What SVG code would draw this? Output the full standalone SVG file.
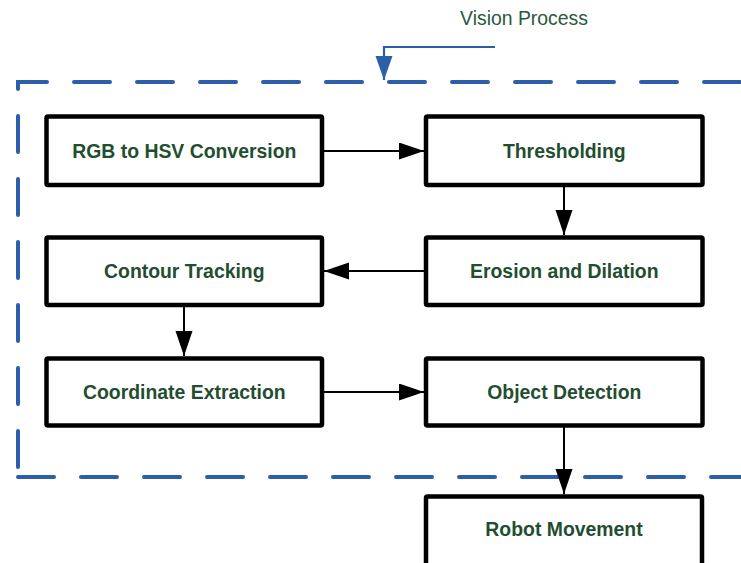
<svg xmlns="http://www.w3.org/2000/svg" width="741" height="563" viewBox="0 0 741 563">
<style>
.box{fill:#fff;stroke:#000;stroke-width:4.5;}
.lbl{font-family:"Liberation Sans",Arial,sans-serif;font-weight:bold;font-size:19.4px;fill:#1F4E30;text-anchor:middle;}
.conn{stroke:#000;stroke-width:2;fill:none;}
.dash{fill:none;stroke:#2C5FAA;stroke-width:4;stroke-dasharray:36 27;stroke-linecap:round;}
</style>
<defs>
<marker id="ah" markerUnits="userSpaceOnUse" markerWidth="26" markerHeight="18" refX="25" refY="8.5" orient="auto">
<path d="M0,0 L25,8.5 L0,17 Z" fill="#000"/>
</marker>
<marker id="bh" markerUnits="userSpaceOnUse" markerWidth="26" markerHeight="18" refX="24" refY="8.5" orient="auto">
<path d="M0,0 L24,8.5 L0,17 Z" fill="#2C5FAA"/>
</marker>
</defs>
<g id="vision-process">
<path class="dash" d="M18 477 V82 H760" stroke-dashoffset="53"/>
<path class="dash" d="M18 477 H760"/>
<text x="524" y="25" font-family="'Liberation Sans',Arial,sans-serif" font-size="19.4" fill="#2A5A3A" text-anchor="middle">Vision Process</text>
<path d="M495 47 H384 V80" fill="none" stroke="#2C5FAA" stroke-width="2.2" marker-end="url(#bh)"/>
</g>
<g id="connectors">
<path class="conn" d="M322 151 H424" marker-end="url(#ah)"/>
<path class="conn" d="M564 185 V235" marker-end="url(#ah)"/>
<path class="conn" d="M426 271 H324" marker-end="url(#ah)"/>
<path class="conn" d="M184 305 V356" marker-end="url(#ah)"/>
<path class="conn" d="M322 392 H424" marker-end="url(#ah)"/>
<path class="conn" d="M564 426 V494" marker-end="url(#ah)"/>
</g>
<g id="rgb-to-hsv">
<rect class="box" x="46.5" y="116.5" width="275.5" height="68.5" rx="1.5"/>
<text class="lbl" x="184.3" y="157.5">RGB to HSV Conversion</text>
</g>
<g id="thresholding">
<rect class="box" x="426" y="116.5" width="276.5" height="68.5" rx="1.5"/>
<text class="lbl" x="564.3" y="157.5">Thresholding</text>
</g>
<g id="erosion-dilation">
<rect class="box" x="426" y="237.5" width="276.5" height="67.5" rx="1.5"/>
<text class="lbl" x="564.3" y="277.5">Erosion and Dilation</text>
</g>
<g id="contour-tracking">
<rect class="box" x="46.5" y="237.5" width="275.5" height="67.5" rx="1.5"/>
<text class="lbl" x="184.3" y="277.5">Contour Tracking</text>
</g>
<g id="coordinate-extraction">
<rect class="box" x="46.5" y="358.5" width="275.5" height="67" rx="1.5"/>
<text class="lbl" x="184.3" y="398.5">Coordinate Extraction</text>
</g>
<g id="object-detection">
<rect class="box" x="426" y="358.5" width="276.5" height="67" rx="1.5"/>
<text class="lbl" x="564.3" y="398.5">Object Detection</text>
</g>
<g id="robot-movement">
<rect class="box" x="426" y="496.5" width="276" height="100" rx="1.5"/>
<text class="lbl" x="564" y="536">Robot Movement</text>
</g>
</svg>
